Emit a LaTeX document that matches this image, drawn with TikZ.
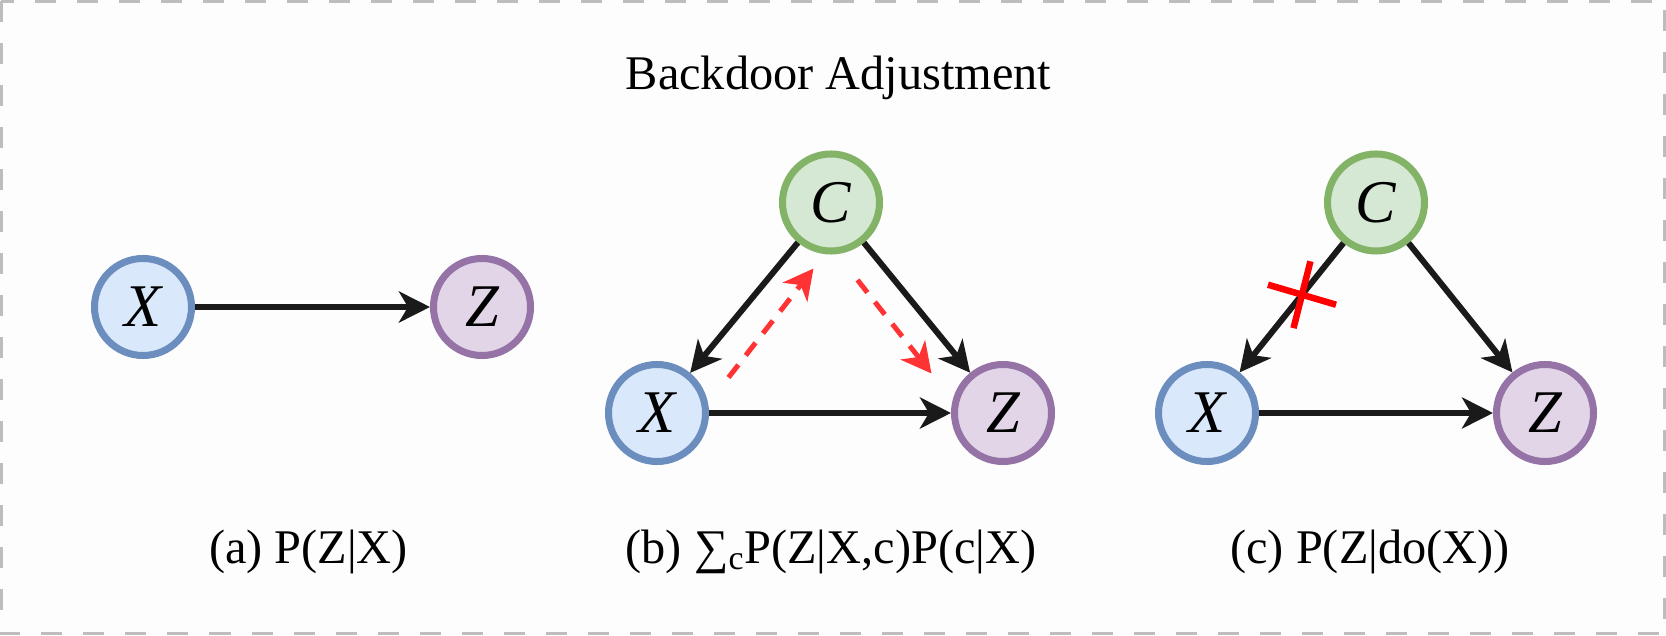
\documentclass[tikz,border=0pt]{standalone}
\usepackage{fontspec}
\setmainfont{Liberation Serif}
\usetikzlibrary{arrows.meta, calc}

\definecolor{bgwhite}{HTML}{FDFDFD}
\definecolor{framegray}{HTML}{BDBDBD}
\definecolor{xfill}{HTML}{DAE8FC}
\definecolor{xline}{HTML}{6C8EBF}
\definecolor{zfill}{HTML}{E1D5E7}
\definecolor{zline}{HTML}{9673A6}
\definecolor{cfill}{HTML}{D5E8D4}
\definecolor{cline}{HTML}{82B366}
\definecolor{arrblack}{HTML}{1A1A1A}
\definecolor{flowred}{HTML}{FF3333}

\begin{document}
\begin{tikzpicture}[
        var/.style={circle, line width=4pt, minimum size=1.94cm, inner sep=0pt,
            font=\fontsize{34.5}{38}\selectfont\itshape},
        xvar/.style={var, draw=xline, fill=xfill},
        zvar/.style={var, draw=zline, fill=zfill},
        cvar/.style={var, draw=cline, fill=cfill},
        arr/.style={arrblack, line width=0.12cm,
            -{Stealth[length=0.62cm, width=0.62cm, inset=0.18cm]}},
        flow/.style={flowred, line width=0.1cm, dash pattern=on 0.32cm off 0.24cm,
            -{Stealth[length=0.6cm, width=0.62cm, inset=0.18cm]}},
        caption/.style={anchor=base, font=\fontsize{27.5}{33}\selectfont}
    ]
        % --- 背景と枠線 ---
        \useasboundingbox (0,0) rectangle (33.32,12.7);
        \fill[bgwhite] (0,0) rectangle (33.32,12.7);
        \draw[framegray, line width=0.06cm, dash pattern=on 0.42cm off 0.42cm]
            (0.03,12.67) rectangle (33.29,0.03);

        % --- タイトル ---
        \node[caption] (title) at (16.77,10.9) {Backdoor Adjustment};

        % --- (a) ---
        \node[xvar] (Xa) at (2.86,6.56) {X};
        \node[zvar] (Za) at (9.64,6.56) {Z};
        \draw[arr] (Xa) -- (Za);
        \node[caption] (capa) at (6.17,1.44) {(a) P(Z|X)};

        % --- (b) ---
        \node[cvar] (Cb) at (16.62,8.65) {C};
        \node[xvar] (Xb) at (13.14,4.44) {X};
        \node[zvar] (Zb) at (20.06,4.44) {Z};
        \draw[arr] (Cb) -- (Xb);
        \draw[arr] (Cb) -- (Zb);
        \draw[arr] (Xb) -- (Zb);

        % 赤い破線の矢印
        \coordinate (flow1s) at (14.57,5.15);
        \coordinate (flow1e) at (16.27,7.33);
        \coordinate (flow2s) at (17.15,7.10);
        \coordinate (flow2e) at (18.63,5.23);
        \draw[flow] (flow1s) -- (flow1e);
        \draw[flow] (flow2s) -- (flow2e);
        \node[caption] (capb) at (16.62,1.44) {(b) ∑\textsubscript{c}P(Z|X,c)P(c|X)};

        % --- (c) ---
        \node[cvar] (Cc) at (27.52,8.65) {C};
        \node[xvar] (Xc) at (24.14,4.44) {X};
        \node[zvar] (Zc) at (30.90,4.44) {Z};
        \draw[arr] (Cc) -- (Xc);
        \draw[arr] (Cc) -- (Zc);
        \draw[arr] (Xc) -- (Zc);

        % C→X の切断マーク
        \coordinate (cut) at ($(Cc)!0.438!(Xc)$);
        \draw[red, line width=0.13cm]
            ($(cut)+(163.6:0.71)$) -- ($(cut)+(-16.4:0.71)$)
            ($(cut)+(75.8:0.69)$) -- ($(cut)+(255.8:0.69)$);
        \node[caption] (capc) at (27.40,1.44) {(c) P(Z|do(X))};

    \end{tikzpicture}
\end{document}
